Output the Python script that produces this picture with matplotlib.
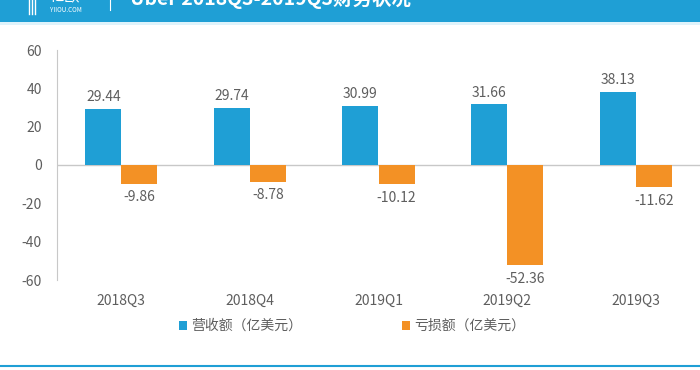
import matplotlib
matplotlib.use('Agg')
import matplotlib.pyplot as plt
from matplotlib.patches import Rectangle
import numpy as np

plt.rcParams['font.family'] = ['Noto Sans CJK SC', 'DejaVu Sans']
plt.rcParams['axes.unicode_minus'] = False

quarters = ['2018Q3', '2018Q4', '2019Q1', '2019Q2', '2019Q3']
revenue = [29.44, 29.74, 30.99, 31.66, 38.13]
loss = [-9.86, -8.78, -10.12, -52.36, -11.62]
yticks = [60, 40, 20, 0, -20, -40, -60]

blue = '#1f9fd5'
orange = '#f39125'
grey_txt = '#5e5e5e'

fig = plt.figure(figsize=(7, 3.7), dpi=100)
fig.patch.set_facecolor('white')

# header band (title cut off at the top like the screenshot)
fig.patches.append(Rectangle((0, 1 - 22 / 370), 1, 22 / 370, transform=fig.transFigure,
                             facecolor=blue, edgecolor='none', zorder=0))
fig.patches.append(Rectangle((0, 1 - 25 / 370), 1, 3 / 370, transform=fig.transFigure,
                             facecolor='#dff3fb', edgecolor='none', zorder=0))
fig.text(130 / 700, 1 + 2 / 370, 'Uber 2018Q3-2019Q3财务状况', color='white', fontsize=14,
         fontweight='bold', va='center', ha='left')
fig.text(50 / 700, 1 + 3 / 370, '亿欧', color='white', fontsize=11, va='center', ha='left')
fig.text(50 / 700, 1 - 10 / 370, 'YIIOU.COM', color='white', fontsize=4.5, va='center', ha='left')
for xx in (29, 32, 35):
    fig.lines.append(plt.Line2D([xx / 700, xx / 700], [1 - 14 / 370, 1], transform=fig.transFigure,
                                color='white', lw=1))
fig.lines.append(plt.Line2D([110 / 700, 110 / 700], [1 - 10 / 370, 1], transform=fig.transFigure,
                            color='white', lw=0.8))

# bottom rule
fig.lines.append(plt.Line2D([0, 1], [1 - 366 / 370, 1 - 366 / 370], transform=fig.transFigure,
                            color=blue, lw=1.5))

ax = fig.add_axes([57 / 700, 1 - 280 / 370, 643 / 700, 230 / 370])
x = np.arange(len(quarters))
w = 0.28
ax.bar(x - w / 2, revenue, width=w, color=blue, label='营收额（亿美元）', zorder=2)
ax.bar(x + w / 2, loss, width=w, color=orange, label='亏损额（亿美元）', zorder=2)

for xi, v in zip(x, revenue):
    ax.text(xi - w / 2, v + 6, f'{v:.2f}', ha='center', va='center', fontsize=10, color=grey_txt)
for xi, v in zip(x, loss):
    ax.text(xi + w / 2, v - 7, f'{v:.2f}', ha='center', va='center', fontsize=10, color=grey_txt)

ax.axhline(0, color='#c8c8c8', lw=1, zorder=1)
ax.set_xlim(-0.5, 4.5)
ax.set_ylim(-60, 60)
ax.set_yticks(yticks)
ax.set_xticks(x)
ax.set_xticklabels(quarters)
ax.tick_params(length=0, labelsize=10, colors=grey_txt)
ax.tick_params(axis='y', pad=11)
ax.tick_params(axis='x', pad=10)
for s in ['top', 'right', 'bottom']:
    ax.spines[s].set_visible(False)
ax.spines['left'].set_color('#c8c8c8')

leg = ax.legend(loc='center', bbox_to_anchor=((352 - 57) / 643, -46 / 230), ncol=2, frameon=False,
                fontsize=10, handlelength=0.6, handleheight=0.6, handletextpad=0.3,
                columnspacing=7.2)
for t in leg.get_texts():
    t.set_color(grey_txt)

fig.savefig('out.png', dpi=100)
